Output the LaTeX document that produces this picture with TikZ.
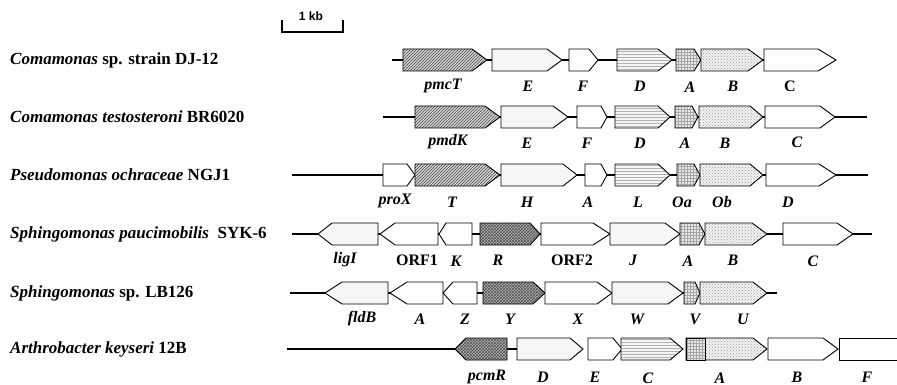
\documentclass[tikz,border=0pt]{standalone}
\usepackage{fontspec}
\setmainfont{Liberation Serif}
\newfontfamily\sansf{Liberation Sans}
\usetikzlibrary{patterns}
\tikzset{
  gbox/.style={draw=black, line width=0.9pt, line join=miter},
  hatch/.style={gbox, preaction={fill=gray!30}, pattern=north east lines, pattern color=black!75},
  speck/.style={gbox, fill=gray!7},
  hlines/.style={gbox, preaction={fill=gray!8}, pattern=horizontal lines, pattern color=gray!60},
  gridf/.style={gbox, preaction={fill=gray!18}, pattern=grid, pattern color=gray!70},
  dgrid/.style={gbox, preaction={fill=gray!10}, pattern=crosshatch dots, pattern color=gray!80},
  dark/.style={gbox, preaction={fill=gray!55}, pattern=crosshatch, pattern color=black!70},
  plain/.style={gbox, fill=white},
  bb/.style={line width=2.2pt, black},
  bbthin/.style={line width=1.5pt, black},
  glab/.style={font=\fontsize{16}{18}\selectfont\bfseries\itshape, inner sep=0pt},
  glabu/.style={font=\fontsize{16}{18}\selectfont\bfseries, inner sep=0pt},
  species/.style={font=\fontsize{17}{19}\selectfont\bfseries, anchor=west, inner sep=0pt},
}
\newcommand\genR[5]{\path[#5] (#1,#4-11) -- (#2,#4-11) -- (#3,#4) -- (#2,#4+11) -- (#1,#4+11) -- cycle;}
\newcommand\genL[5]{\path[#5] (#3,#4-11) -- (#2,#4-11) -- (#1,#4) -- (#2,#4+11) -- (#3,#4+11) -- cycle;}
\begin{document}
\begin{tikzpicture}[x=1pt,y=-1pt]
\useasboundingbox (0,0) rectangle (897,385);
% scale bar
\coordinate (sbl) at (282,32);
\coordinate (sbr) at (343,32);
\draw[line width=1.3pt] ([yshift=12pt]sbl) -- (sbl) -- (sbr) -- ([yshift=12pt]sbr);
\node[font=\sansf\fontsize{12}{13}\selectfont\bfseries, inner sep=0pt] (kb) at (311,16) {1 kb};

% species names
\node[species] (s1) at (10,60) {\textit{Comamonas} sp. strain DJ-12};
\node[species] (s2) at (10,117) {\textit{Comamonas testosteroni} BR6020};
\node[species] (s3) at (10,175) {\textit{Pseudomonas ochraceae} NGJ1};
\node[species] (s4) at (10,234) {\textit{Sphingomonas paucimobilis}\ \ SYK-6};
\node[species] (s5) at (10,293) {\textit{Sphingomonas} sp. LB126};
\node[species] (s6) at (10,349) {\textit{Arthrobacter keyseri} 12B};

% ---------- row 1 ----------
\coordinate (r1a) at (392,60); \coordinate (r1b) at (836,60);
\draw[bb] (r1a) -- (r1b);
\genR{403}{472}{487}{60}{hatch}
\genR{492}{547}{562}{60}{speck}
\genR{569}{589}{598}{60}{plain}
\genR{617}{658}{672}{60}{hlines}
\genR{676}{694}{701}{60}{gridf}
\genR{701}{748}{763}{60}{dgrid}
\genR{764}{818}{836}{60}{plain}
\node[glab] (l1a) at (443,86) {pmcT};
\node[glab] (l1b) at (528,86) {E};
\node[glab] (l1c) at (583,86) {F};
\node[glab] (l1d) at (640,86) {D};
\node[glab] (l1e) at (690,87) {A};
\node[glab] (l1f) at (733,86) {B};
\node[glabu] (l1g) at (790,86) {C};

% ---------- row 2 ----------
\coordinate (r2a) at (383,117); \coordinate (r2b) at (867,117);
\draw[bb] (r2a) -- (r2b);
\genR{415}{485}{500}{117}{hatch}
\genR{501}{553}{568}{117}{speck}
\genR{577}{601}{607}{117}{plain}
\genR{615}{658}{670}{117}{hlines}
\genR{675}{692}{698}{117}{gridf}
\genR{699}{750}{763}{117}{dgrid}
\genR{765}{820}{835}{117}{plain}
\node[glab] (l2a) at (448,142) {pmdK};
\node[glab] (l2b) at (527,143) {E};
\node[glab] (l2c) at (587,143) {F};
\node[glab] (l2d) at (640,143) {D};
\node[glab] (l2e) at (685,143) {A};
\node[glab] (l2f) at (725,143) {B};
\node[glab] (l2g) at (797,142) {C};

% ---------- row 3 ----------
\coordinate (r3a) at (292,175); \coordinate (r3b) at (868,175);
\draw[bb] (r3a) -- (r3b);
\genR{383}{407}{415}{175}{plain}
\genR{415}{485}{500}{175}{hatch}
\genR{501}{563}{577}{175}{speck}
\genR{585}{601}{607}{175}{plain}
\genR{615}{658}{670}{175}{hlines}
\genR{677}{694}{700}{175}{gridf}
\genR{700}{750}{763}{175}{dgrid}
\genR{766}{819}{836}{175}{plain}
\node[glab] (l3a) at (395,201) {proX};
\node[glab] (l3b) at (452,202) {T};
\node[glab] (l3c) at (527,202) {H};
\node[glab] (l3d) at (588,202) {A};
\node[glab] (l3e) at (638,202) {L};
\node[glab] (l3f) at (682,202) {Oa};
\node[glab] (l3g) at (722,202) {Ob};
\node[glab] (l3h) at (788,202) {D};

% ---------- row 4 ----------
\coordinate (r4a) at (292,234); \coordinate (r4b) at (872,234);
\draw[bb] (r4a) -- (r4b);
\genL{318}{332}{378}{234}{speck}
\genL{380}{395}{438}{234}{plain}
\genL{439}{446}{472}{234}{plain}
\genR{480}{530}{540}{234}{dark}
\genR{541}{593}{610}{234}{plain}
\genR{610}{665}{680}{234}{speck}
\genR{680}{699}{705}{234}{gridf}
\genR{705}{752}{767}{234}{dgrid}
\genR{783}{837}{853}{234}{plain}
\node[glab] (l4a) at (345,260) {ligI};
\node[glabu] (l4b) at (417,260) {ORF1};
\node[glab] (l4c) at (456,261) {K};
\node[glab] (l4d) at (498,260) {R};
\node[glabu] (l4e) at (572,260) {ORF2};
\node[glab] (l4f) at (633,260) {J};
\node[glab] (l4g) at (688,261) {A};
\node[glab] (l4h) at (733,260) {B};
\node[glab] (l4i) at (813,261) {C};

% ---------- row 5 ----------
\coordinate (r5a) at (290,293); \coordinate (r5b) at (777,293);
\draw[bb] (r5a) -- (r5b);
\genL{325}{342}{388}{293}{speck}
\genL{390}{407}{443}{293}{plain}
\genL{443}{453}{477}{293}{plain}
\genR{483}{533}{545}{293}{dark}
\genR{545}{597}{612}{293}{plain}
\genR{612}{668}{683}{293}{speck}
\genR{684}{695}{700}{293}{gridf}
\genR{700}{753}{767}{293}{dgrid}
\node[glab] (l5a) at (362,319) {fldB};
\node[glab] (l5b) at (420,319) {A};
\node[glab] (l5c) at (465,319) {Z};
\node[glab] (l5d) at (510,319) {Y};
\node[glab] (l5e) at (578,319) {X};
\node[glab] (l5f) at (637,319) {W};
\node[glab] (l5g) at (695,319) {V};
\node[glab] (l5h) at (743,319) {U};

% ---------- row 6 ----------
\coordinate (r6a) at (287,349); \coordinate (r6b) at (520,349);
\draw[bbthin] (r6a) -- (r6b);
\genL{455}{466}{507}{349}{dark}
\genR{517}{570}{583}{349}{speck}
\genR{588}{613}{622}{349}{plain}
\genR{621}{670}{683}{349}{hlines}
\genR{686}{753}{767}{349}{dgrid}
\path[gridf] (686,338) rectangle (705,360);
\genR{768}{823}{838}{349}{plain}
\path[plain] (898,338) -- (839,338) -- (839,360) -- (898,360);
\node[glab] (l6a) at (487,377) {pcmR};
\node[glab] (l6b) at (543,377) {D};
\node[glab] (l6c) at (595,377) {E};
\node[glab] (l6d) at (648,378) {C};
\node[glab] (l6e) at (720,378) {A};
\node[glab] (l6f) at (797,377) {B};
\node[glab] (l6g) at (867,377) {F};
\end{tikzpicture}
\end{document}
